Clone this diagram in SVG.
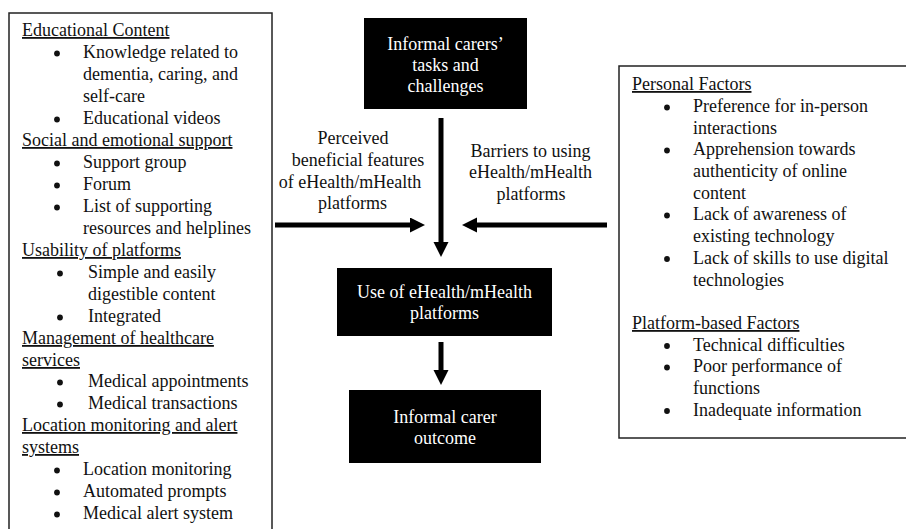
<svg xmlns="http://www.w3.org/2000/svg" width="906" height="529" viewBox="0 0 906 529">
<style>
text{font-family:"Liberation Serif","Times New Roman",serif;font-size:18px;fill:#111}
.h{text-decoration:underline}
.w{fill:#fff;text-anchor:middle}
.c{text-anchor:middle}
.frame{fill:#fff;stroke:#222;stroke-width:1.5}
.blk{fill:#000}
.arr{stroke:#000;stroke-width:5;fill:none;marker-end:url(#ah)}
</style>
<defs>
<marker id="ah" markerUnits="userSpaceOnUse" markerWidth="16" markerHeight="16" refX="0" refY="7.5" orient="auto">
<path d="M0,0 L15,7.5 L0,15 Z" fill="#000"/>
</marker>
<circle id="bul" r="2.9" fill="#111"/>
</defs>
<rect width="906" height="529" fill="#fff"/>

<g id="benefits">
<rect class="frame" x="9" y="13" width="263" height="530"/>
<text class="h" x="22" y="36">Educational Content</text>
<use href="#bul" x="57" y="53.5"/><text x="83" y="58">Knowledge related to</text>
<text x="83" y="80">dementia, caring, and</text>
<text x="83" y="102">self-care</text>
<use href="#bul" x="57" y="119.5"/><text x="83" y="124">Educational videos</text>
<text class="h" x="22" y="146">Social and emotional support</text>
<use href="#bul" x="57" y="163.5"/><text x="83" y="168">Support group</text>
<use href="#bul" x="57" y="185.5"/><text x="83" y="190">Forum</text>
<use href="#bul" x="57" y="207.5"/><text x="83" y="212">List of supporting</text>
<text x="83" y="234">resources and helplines</text>
<text class="h" x="22" y="256">Usability of platforms</text>
<use href="#bul" x="60" y="273.5"/><text x="88" y="278">Simple and easily</text>
<text x="88" y="300">digestible content</text>
<use href="#bul" x="60" y="317.5"/><text x="88" y="322">Integrated</text>
<text class="h" x="22" y="344">Management of healthcare</text>
<text class="h" x="22" y="366">services</text>
<use href="#bul" x="60" y="382.5"/><text x="88" y="387">Medical appointments</text>
<use href="#bul" x="60" y="404.5"/><text x="88" y="409">Medical transactions</text>
<text class="h" x="22" y="431">Location monitoring and alert</text>
<text class="h" x="22" y="453">systems</text>
<use href="#bul" x="57" y="470.5"/><text x="83" y="475">Location monitoring</text>
<use href="#bul" x="57" y="492.5"/><text x="83" y="497">Automated prompts</text>
<use href="#bul" x="57" y="514.5"/><text x="83" y="519">Medical alert system</text>
</g>

<g id="barriers">
<rect class="frame" x="619" y="66" width="300" height="372"/>
<text class="h" x="632" y="90">Personal Factors</text>
<use href="#bul" x="667" y="107.5"/><text x="693" y="112">Preference for in-person</text>
<text x="693" y="133.5">interactions</text>
<use href="#bul" x="667" y="150.5"/><text x="693" y="155">Apprehension towards</text>
<text x="693" y="177">authenticity of online</text>
<text x="693" y="198.5">content</text>
<use href="#bul" x="667" y="215.5"/><text x="693" y="220">Lack of awareness of</text>
<text x="693" y="242">existing technology</text>
<use href="#bul" x="667" y="259"/><text x="693" y="263.5">Lack of skills to use digital</text>
<text x="693" y="285.5">technologies</text>
<text class="h" x="632" y="329">Platform-based Factors</text>
<use href="#bul" x="667" y="346"/><text x="693" y="350.5">Technical difficulties</text>
<use href="#bul" x="667" y="367.5"/><text x="693" y="372">Poor performance of</text>
<text x="693" y="394">functions</text>
<use href="#bul" x="667" y="411"/><text x="693" y="415.5">Inadequate information</text>
</g>

<g id="tasks">
<rect class="blk" x="364" y="18" width="163" height="91"/>
<text class="w" x="445.5" y="50">Informal carers’</text>
<text class="w" x="445.5" y="71">tasks and</text>
<text class="w" x="445.5" y="92">challenges</text>
</g>

<g id="use">
<rect class="blk" x="337" y="268" width="215" height="68"/>
<text class="w" x="444.5" y="298">Use of eHealth/mHealth</text>
<text class="w" x="444.5" y="319">platforms</text>
</g>

<g id="outcome">
<rect class="blk" x="349" y="390" width="192" height="73"/>
<text class="w" x="445" y="423">Informal carer</text>
<text class="w" x="445" y="444">outcome</text>
</g>

<g id="connectors">
<path class="arr" d="M441,118 V242"/>
<path class="arr" d="M275,225 H410"/>
<path class="arr" d="M607,225 H477"/>
<path class="arr" d="M441,342 V370"/>
<text class="c" x="353" y="144">Perceived</text>
<text class="c" x="358" y="166">beneficial features</text>
<text class="c" x="350" y="187.5">of eHealth/mHealth</text>
<text class="c" x="352.5" y="209">platforms</text>
<text class="c" x="530.5" y="157">Barriers to using</text>
<text class="c" x="530.5" y="178">eHealth/mHealth</text>
<text class="c" x="531" y="199.5">platforms</text>
</g>
</svg>
